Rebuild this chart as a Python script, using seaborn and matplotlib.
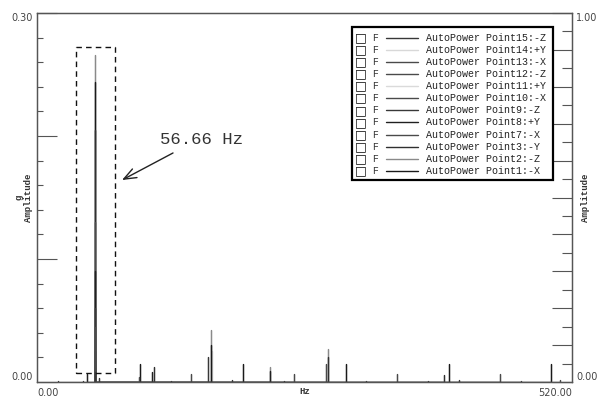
import numpy as np
import pandas as pd
import matplotlib
matplotlib.use("Agg")
import matplotlib.pyplot as plt
import seaborn as sns
from matplotlib.patches import Rectangle
from matplotlib.ticker import MultipleLocator

# ---------------- data ----------------
legend_labels = ["AutoPower Point15:-Z", "AutoPower Point14:+Y", "AutoPower Point13:-X",
                 "AutoPower Point12:-Z", "AutoPower Point11:+Y", "AutoPower Point10:-X",
                 "AutoPower Point9:-Z", "AutoPower Point8:+Y", "AutoPower Point7:-X",
                 "AutoPower Point3:-Y", "AutoPower Point2:-Z", "AutoPower Point1:-X"]

p1_hz = [56.66, 100.0, 169.3, 200.0, 300.0, 400.0, 500.0]
p1_amp = [0.244, 0.0146, 0.030, 0.0146, 0.0146, 0.0146, 0.0146]
p2_hz = [56.66, 169.3, 226.0, 283.0]
p2_amp = [0.266, 0.042, 0.012, 0.027]
p3_hz = [56.66, 113.7, 283.0, 395.5]
p3_amp = [0.205, 0.012, 0.020, 0.006]
p7_hz = [56.66, 150.0, 250.0, 350.0, 450.0]
p7_amp = [0.130, 0.0065, 0.0065, 0.0065, 0.0065]
p8_hz = [49.0, 56.66, 112.0, 226.0]
p8_amp = [0.0065, 0.090, 0.008, 0.009]
p9_hz = [56.66, 166.5]
p9_amp = [0.060, 0.020]
p10_hz = [56.66, 280.5]
p10_amp = [0.045, 0.015]
p11_hz = [56.66, 170.5]
p11_amp = [0.035, 0.025]
p12_hz = [56.66, 99.0]
p12_amp = [0.025, 0.004]
p13_hz = [56.66, 508.0]
p13_amp = [0.018, 0.002]
p14_hz = [56.66]
p14_amp = [0.012]
p15_hz = [20.0, 45.0, 56.66, 60.0, 130.0, 190.0, 240.0, 320.0, 380.0, 410.0, 470.0]
p15_amp = [0.0008, 0.0012, 0.008, 0.003, 0.001, 0.0015, 0.001, 0.001, 0.0012, 0.0015, 0.0008]

series_hz = {
    "AutoPower Point15:-Z": p15_hz, "AutoPower Point14:+Y": p14_hz,
    "AutoPower Point13:-X": p13_hz, "AutoPower Point12:-Z": p12_hz,
    "AutoPower Point11:+Y": p11_hz, "AutoPower Point10:-X": p10_hz,
    "AutoPower Point9:-Z": p9_hz, "AutoPower Point8:+Y": p8_hz,
    "AutoPower Point7:-X": p7_hz, "AutoPower Point3:-Y": p3_hz,
    "AutoPower Point2:-Z": p2_hz, "AutoPower Point1:-X": p1_hz,
}
series_amp = {
    "AutoPower Point15:-Z": p15_amp, "AutoPower Point14:+Y": p14_amp,
    "AutoPower Point13:-X": p13_amp, "AutoPower Point12:-Z": p12_amp,
    "AutoPower Point11:+Y": p11_amp, "AutoPower Point10:-X": p10_amp,
    "AutoPower Point9:-Z": p9_amp, "AutoPower Point8:+Y": p8_amp,
    "AutoPower Point7:-X": p7_amp, "AutoPower Point3:-Y": p3_amp,
    "AutoPower Point2:-Z": p2_amp, "AutoPower Point1:-X": p1_amp,
}

colors = {
    "AutoPower Point15:-Z": "#383838", "AutoPower Point14:+Y": "#d8d8d8",
    "AutoPower Point13:-X": "#4a4a4a", "AutoPower Point12:-Z": "#4a4a4a",
    "AutoPower Point11:+Y": "#dadada", "AutoPower Point10:-X": "#4a4a4a",
    "AutoPower Point9:-Z": "#383838", "AutoPower Point8:+Y": "#202020",
    "AutoPower Point7:-X": "#4a4a4a", "AutoPower Point3:-Y": "#303030",
    "AutoPower Point2:-Z": "#8a8a8a", "AutoPower Point1:-X": "#1a1a1a",
}

draw_order = ["AutoPower Point14:+Y", "AutoPower Point11:+Y", "AutoPower Point2:-Z",
              "AutoPower Point1:-X", "AutoPower Point3:-Y", "AutoPower Point7:-X",
              "AutoPower Point8:+Y", "AutoPower Point9:-Z", "AutoPower Point10:-X",
              "AutoPower Point12:-Z", "AutoPower Point13:-X", "AutoPower Point15:-Z"]

# long-form table: every spectral line drawn as a stem from the baseline
rows = []
for name in draw_order:
    for f, a in zip(series_hz[name], series_amp[name]):
        rows += [(name, f, 0.0), (name, f, a), (name, f, 0.0)]
df = pd.DataFrame(rows, columns=["series", "Hz", "amp"])

# ---------------- figure ----------------
sns.set_style("ticks")
plt.rcParams["font.family"] = ["DejaVu Sans"]

fig = plt.figure(figsize=(5.98, 3.98), dpi=100)
L, R, T, B = 37, 572, 13, 382
ax = fig.add_axes([L / 598, (398 - B) / 398, (R - L) / 598, (B - T) / 398])

sns.lineplot(data=df, x="Hz", y="amp", hue="series", hue_order=draw_order,
             palette=colors, estimator=None, sort=False, legend=False,
             linewidth=0.9, ax=ax)

ax.set_xlim(0, 520)
ax.set_ylim(0, 0.30)

spine_col = "#555555"
tick_col = "#444444"

# left axis
ax.set_yticks([0, 0.1, 0.2, 0.3])
ax.set_yticklabels(["0.00", "", "", "0.30"])
ax.yaxis.set_minor_locator(MultipleLocator(0.02))
ax.tick_params(axis="y", which="major", direction="in", length=14.4, width=0.8,
               color=spine_col, labelsize=7, labelcolor=tick_col, pad=3)
ax.tick_params(axis="y", which="minor", direction="in", length=4.3, width=0.8,
               color=spine_col)
ylab = ax.get_yticklabels()
ylab[0].set_va("bottom")
ylab[3].set_va("top")

# x axis
ax.set_xticks([0, 520])
ax.set_xticklabels(["0.00", "520.00"])
ax.tick_params(axis="x", which="both", length=0, labelsize=7, labelcolor=tick_col, pad=4)
xl = ax.get_xticklabels()
xl[0].set_ha("left")
xl[1].set_ha("right")

ax.set_xlabel("Hz", fontsize=6.5, family="Liberation Mono", fontweight="bold", color="#333")
ax.xaxis.set_label_coords(0.5, -0.013)
ax.set_ylabel("g\nAmplitude", fontsize=6.5, family="Liberation Mono", fontweight="bold",
              color="#333", linespacing=1.1)
ax.yaxis.set_label_coords(-0.008, 0.5)

for s in ax.spines.values():
    s.set_visible(True)
    s.set_color(spine_col)
    s.set_linewidth(0.9)

# right axis
ax2 = ax.twinx()
ax2.set_ylim(0, 1)
ax2.set_yticks([0, 0.1, 0.2, 0.3, 0.4, 0.5, 0.6, 0.7, 0.8, 0.9, 1.0])
ax2.set_yticklabels(["0.00"] + [""] * 9 + ["1.00"])
ax2.yaxis.set_minor_locator(MultipleLocator(0.05))
ax2.tick_params(axis="y", which="major", direction="in", length=14.4, width=0.8,
                color=spine_col, labelsize=7, labelcolor=tick_col, pad=3)
ax2.tick_params(axis="y", which="minor", direction="in", length=7.2, width=0.8,
                color=spine_col)
rl = ax2.get_yticklabels()
rl[0].set_va("bottom")
rl[-1].set_va("top")
ax2.set_ylabel("Amplitude", fontsize=6.5, family="Liberation Mono", fontweight="bold",
               color="#333", rotation=90)
ax2.yaxis.set_label_coords(1.016, 0.5)
for s in ax2.spines.values():
    s.set_color(spine_col)
    s.set_linewidth(0.9)

# annotation: dashed box and arrow
ax.add_patch(Rectangle((37.9, 0.0073), 37.9, 0.265, fill=False, edgecolor="#111",
                       linewidth=1.0, linestyle=(0, (4, 3)), zorder=5))
ax.annotate("", xy=(82.6, 0.1642), xytext=(132.2, 0.1862),
            arrowprops=dict(arrowstyle="->,head_length=0.9,head_width=0.35",
                            color="#222", lw=1.0, shrinkA=0, shrinkB=0))
ax.text(119.6, 0.197, "56.66 Hz", fontsize=12.5, family="Liberation Mono",
        color="#333", ha="left", va="center")

# legend box
def ax_x(px):
    return (px - L) / (R - L)

def ax_y(py):
    return (B - py) / (B - T)

ax2.add_patch(Rectangle((ax_x(352), ax_y(180)), ax_x(553) - ax_x(352), ax_y(27) - ax_y(180),
                        transform=ax2.transAxes, facecolor="white", edgecolor="black",
                        linewidth=1.6, zorder=10))
for i, name in enumerate(legend_labels):
    yy = ax_y(37.7 + i * 12.1)
    ax2.text(ax_x(360.5), yy, "\u25a1", transform=ax2.transAxes, fontsize=9,
             ha="center", va="center", color="#111", zorder=11)
    ax2.text(ax_x(375), yy, "F", transform=ax2.transAxes, fontsize=7,
             family="Liberation Mono", ha="center", va="center", color="#333", zorder=11)
    ax2.plot([ax_x(386), ax_x(418)], [yy, yy], transform=ax2.transAxes,
             color=colors[name], linewidth=1.0, zorder=11)
    ax2.text(ax_x(426), yy, name, transform=ax2.transAxes, fontsize=7.2,
             family="Liberation Mono", ha="left", va="center", color="#222", zorder=11)

fig.savefig("out.png", dpi=100)
